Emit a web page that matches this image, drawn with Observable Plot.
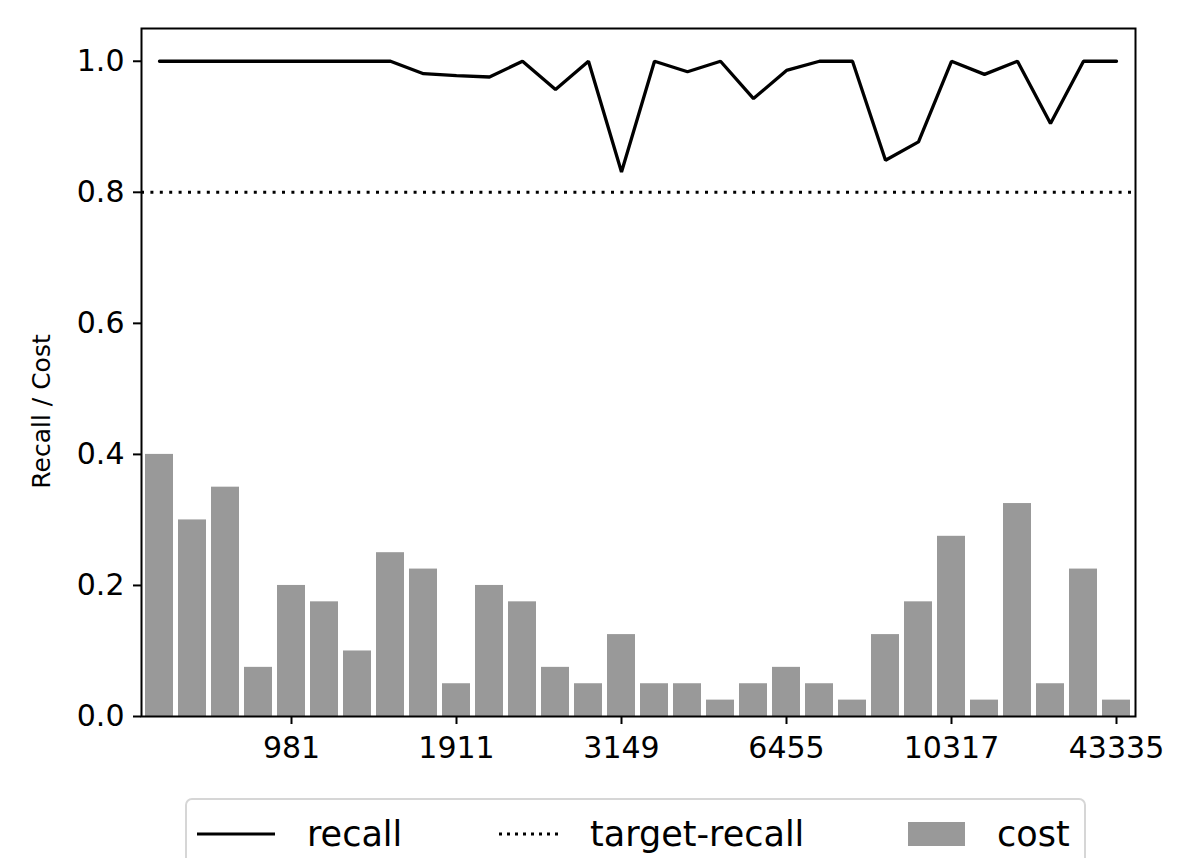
<!DOCTYPE html>
<html>
<head>
<meta charset="utf-8">
<script src="https://cdn.jsdelivr.net/npm/d3@7"></script>
<script src="https://cdn.jsdelivr.net/npm/@observablehq/plot@0.6"></script>
<style>
  html, body { margin: 0; padding: 0; background: #fff; }
  #wrap { position: relative; width: 1196px; height: 858px; overflow: hidden; font-family: "DejaVu Sans", sans-serif; }
  #legend { position: absolute; left: 185px; top: 798px; width: 901px; height: 80px; border: 2px solid #d6d6d6; border-radius: 7px; box-sizing: border-box; background: #fff; }
  #legend svg { position: absolute; left: 0; top: 0; }
</style>
</head>
<body>
<div id="wrap"></div>
<script>
// ---- data ----
const binIndex = d3.range(30);
const cost = [0.40, 0.30, 0.35, 0.075, 0.20, 0.175, 0.10, 0.25, 0.225, 0.05,
              0.20, 0.175, 0.075, 0.05, 0.125, 0.05, 0.05, 0.025, 0.05, 0.075,
              0.05, 0.025, 0.125, 0.175, 0.275, 0.025, 0.325, 0.05, 0.225, 0.025];
const recall = [1.0, 1.0, 1.0, 1.0, 1.0, 1.0, 1.0, 1.0, 0.981, 0.978,
                0.976, 1.0, 0.957, 1.0, 0.831, 1.0, 0.984, 1.0, 0.943, 0.986,
                1.0, 1.0, 0.849, 0.877, 1.0, 0.980, 1.0, 0.905, 1.0, 1.0];
const targetRecall = 0.8;
const tickIndex = [4, 9, 14, 19, 24, 29];
const tickLabels = ["981", "1911", "3149", "6455", "10317", "43335"];
const yTicks = [0, 0.2, 0.4, 0.6, 0.8, 1.0];
const legendItems = ["recall", "target-recall", "cost"];

const rows = binIndex.map(i => ({i, cost: cost[i], recall: recall[i]}));
const labelOf = new Map(tickIndex.map((t, k) => [t, tickLabels[k]]));

const chart = Plot.plot({
  width: 1196,
  height: 780,
  marginLeft: 141,
  marginRight: 61,
  marginTop: 28,
  marginBottom: 64,
  style: {fontFamily: "DejaVu Sans, sans-serif", fontSize: "30px", color: "#000", background: "#fff"},
  x: {type: "band", domain: binIndex, paddingInner: 0.15, paddingOuter: 0.03},
  y: {domain: [0, 1.05]},
  marks: [
    Plot.barY(rows, {x: "i", y: "cost", fill: "#999999"}),
    Plot.ruleY([targetRecall], {stroke: "#000", strokeWidth: 3, strokeDasharray: "3,6.4"}),
    Plot.line(rows, {x: "i", y: "recall", stroke: "#000", strokeWidth: 3.3, strokeLinejoin: "miter"}),
    Plot.frame({stroke: "#000", strokeWidth: 2}),
    Plot.axisX({ticks: tickIndex, tickFormat: d => labelOf.get(d), tickSize: 8, tickPadding: 12, tickRotate: 0, strokeWidth: 2, fontSize: 30, label: null}),
    Plot.axisY({ticks: yTicks, tickFormat: d3.format(".1f"), tickSize: 8, tickPadding: 9, strokeWidth: 2, fontSize: 30, label: null}),
    Plot.text(["Recall / Cost"], {frameAnchor: "left", textAnchor: "middle", rotate: -90, dx: -100, dy: 39, fontSize: 25, fill: "#000"})
  ]
});
document.getElementById("wrap").appendChild(chart);

// ---- legend ----
const leg = document.createElement("div");
leg.id = "legend";
const ns = "http://www.w3.org/2000/svg";
const svg = document.createElementNS(ns, "svg");
svg.setAttribute("width", 901);
svg.setAttribute("height", 80);
svg.style.fontFamily = "DejaVu Sans, sans-serif";
function el(tag, attrs, text) {
  const e = document.createElementNS(ns, tag);
  for (const k in attrs) e.setAttribute(k, attrs[k]);
  if (text) e.textContent = text;
  svg.appendChild(e);
  return e;
}
const cy = 34;
el("line", {x1: 10, x2: 88, y1: cy, y2: cy, stroke: "#000", "stroke-width": 3});
el("text", {x: 120, y: cy + 12, "font-size": 35, fill: "#000"}, legendItems[0]);
el("line", {x1: 312, x2: 376, y1: cy, y2: cy, stroke: "#000", "stroke-width": 3, "stroke-dasharray": "3,5"});
el("text", {x: 403, y: cy + 12, "font-size": 35, fill: "#000"}, legendItems[1]);
el("rect", {x: 721, y: cy - 12, width: 57, height: 24, fill: "#999999"});
el("text", {x: 810, y: cy + 12, "font-size": 35, fill: "#000"}, legendItems[2]);
leg.appendChild(svg);
document.getElementById("wrap").appendChild(leg);
</script>
</body>
</html>
